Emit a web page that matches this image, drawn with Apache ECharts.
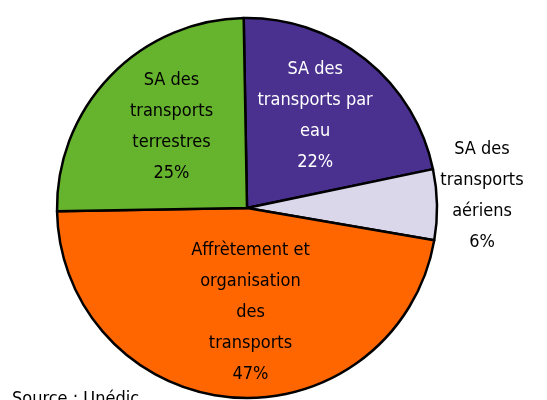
<!DOCTYPE html>
<html>
    <head>
        <meta charset="UTF-8" />
        <script src="https://cdn.jsdelivr.net/npm/echarts@6/dist/echarts.min.js"></script>
        <style>
            html, body { margin: 0; padding: 0; background: #fff; }
        </style>
    </head>

    <body>
        <div id="main" style="width: 547px; height: 400px"></div>
        <script type="text/javascript">
            // parts of the sector, clockwise from the top
            var categories = [
                'SA des\ntransports par\neau',
                'SA des\ntransports\naériens',
                'Affrètement et\norganisation\ndes\ntransports',
                'SA des\ntransports\nterrestres'
            ];
            var shares = [22, 6, 47, 25];
            var colors = ['#4a3190', '#dad7ea', '#ff6600', '#66b42e'];
            var textColors = ['#ffffff', '#000000', '#000000', '#000000'];
            // label nudges from the default inside position
            var nudges = [[7, -16], [137, -10], [11, 7], [-5, -13]];

            var chartDom = document.getElementById('main');
            var myChart = echarts.init(chartDom);
            var option;

            var font = '"Liberation Sans Narrow", "DejaVu Sans Condensed", sans-serif';

            var data = [];
            for (var i = 0; i < categories.length; i++) {
                data.push({
                    name: categories[i],
                    value: shares[i],
                    itemStyle: { color: colors[i] },
                    label: { color: textColors[i] }
                });
            }

            option = {
                animation: false,
                graphic: [
                    {
                        type: 'text',
                        left: 12,
                        top: 390,
                        style: {
                            text: 'Source : Unédic',
                            font: '18px ' + font,
                            fill: '#000'
                        }
                    }
                ],
                series: [
                    {
                        type: 'pie',
                        center: [247, 208],
                        radius: 190,
                        startAngle: 91,
                        clockwise: true,
                        avoidLabelOverlap: false,
                        itemStyle: {
                            borderColor: '#000',
                            borderWidth: 2.5
                        },
                        label: {
                            show: true,
                            position: 'inside',
                            formatter: '{b}\n{c}%',
                            fontFamily: font,
                            fontSize: 18,
                            lineHeight: 31,
                            align: 'center'
                        },
                        labelLine: { show: false },
                        labelLayout: function (params) {
                            var n = nudges[params.dataIndex];
                            return { dx: n[0], dy: n[1] };
                        },
                        emphasis: { disabled: true },
                        data: data
                    }
                ]
            };

            option && myChart.setOption(option);
        </script>
    </body>
</html>
